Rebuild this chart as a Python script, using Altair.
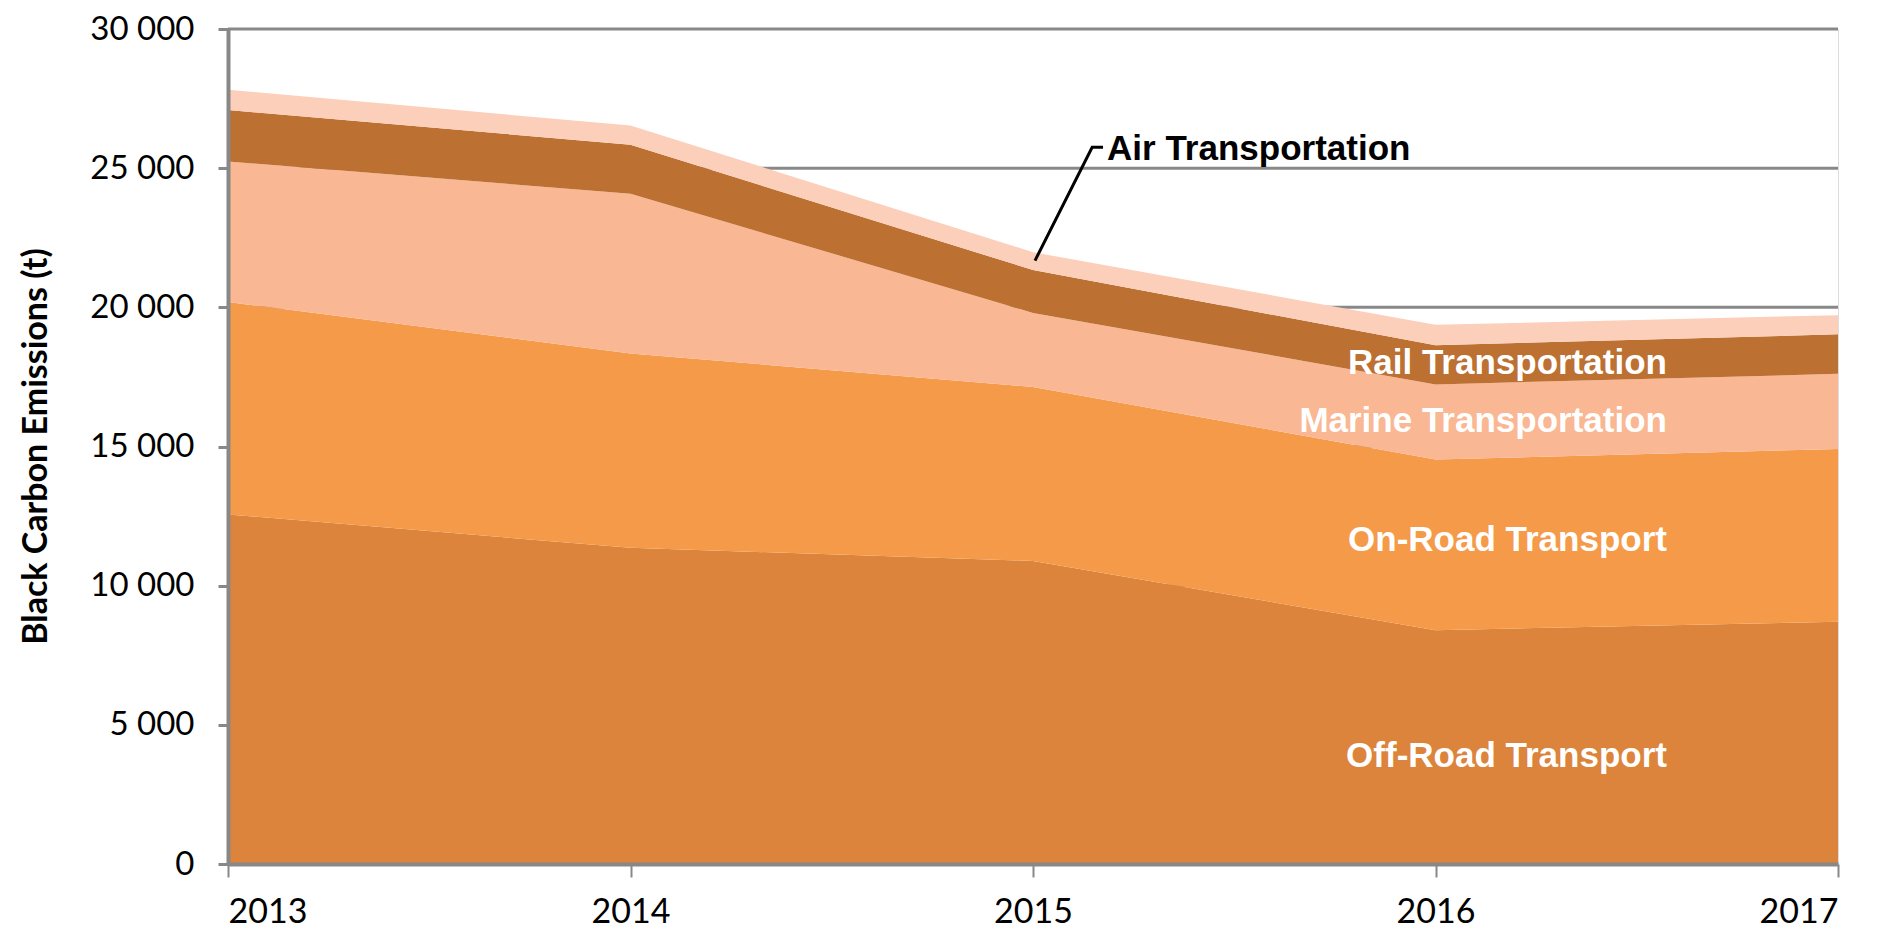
import altair as alt
import pandas as pd

years = [2013, 2014, 2015, 2016, 2017]
sectors = ["Off-Road Transport", "On-Road Transport", "Marine Transportation",
           "Rail Transportation", "Air Transportation"]
off_road = [12560, 11360, 10890, 8400, 8700]
on_road = [7630, 6980, 6250, 6130, 6210]
marine = [5050, 5740, 2660, 2700, 2700]
rail = [1850, 1760, 1540, 1410, 1420]
air = [730, 690, 640, 730, 690]
colors = ["#DC843C", "#F59A48", "#F9B793", "#BC7032", "#FBCFBA"]

y_ticks = [0, 5000, 10000, 15000, 20000, 25000, 30000]
grid_vals = [5000, 10000, 15000, 20000, 25000, 30000]

label_text = ["Rail Transportation", "Marine Transportation",
              "On-Road Transport", "Off-Road Transport"]
label_x = [2016.575, 2016.575, 2016.575, 2016.575]
label_y = [18000, 15930, 11640, 3890]

air_label = ["Air Transportation"]
air_label_x = [2015.184]
air_label_y = [25680]
leader_x = [2015.005, 2015.147, 2015.174]
leader_y = [21680, 25750, 25750]

series = [off_road, on_road, marine, rail, air]
rows = []
for rank, (name, vals) in enumerate(zip(sectors, series)):
    for yr, v in zip(years, vals):
        rows.append({"year": yr, "sector": name, "value": v, "rank": rank})
df = pd.DataFrame(rows)

x_scale = alt.Scale(domain=[2013, 2017], nice=False, zero=False)
y_scale = alt.Scale(domain=[0, 30000], nice=False)

grid = alt.Chart(pd.DataFrame({"g": grid_vals})).mark_rule(
    color="#888888", strokeWidth=3
).encode(y=alt.Y("g:Q", scale=y_scale))

areas = alt.Chart(df).mark_area(opacity=1).encode(
    x=alt.X("year:Q", scale=x_scale,
            axis=alt.Axis(values=years, format="d", title=None, grid=False,
                          domainColor="#888888", domainWidth=4,
                          tickColor="#888888", tickWidth=2, tickSize=13,
                          labelPadding=18, labelFont="Lato", labelFontSize=34,
                          labelColor="#000000", zindex=1)),
    y=alt.Y("value:Q", stack="zero", scale=y_scale,
            axis=alt.Axis(values=y_ticks, grid=False,
                          labelExpr="replace(format(datum.value, ','), ',', ' ')",
                          title="Black Carbon Emissions (t)",
                          titleFont="Lato", titleFontSize=34, titleFontWeight="bold",
                          titleColor="#000000", titleX=-192, titleY=417,
                          titleAngle=270, titleAlign="center", titleBaseline="middle",
                          domainColor="#888888", domainWidth=4,
                          tickColor="#888888", tickWidth=3, tickSize=10,
                          labelPadding=24, labelFont="Lato", labelFontSize=33,
                          labelColor="#000000", zindex=1)),
    color=alt.Color("sector:N", scale=alt.Scale(domain=sectors, range=colors), legend=None),
    order=alt.Order("rank:Q"),
)

labels = alt.Chart(pd.DataFrame({"t": label_text, "x": label_x, "y": label_y})).mark_text(
    align="right", baseline="middle", font="Liberation Sans", fontWeight="bold",
    fontSize=35, color="white"
).encode(x=alt.X("x:Q", scale=x_scale), y=alt.Y("y:Q", scale=y_scale), text="t:N")

air_text = alt.Chart(pd.DataFrame({"t": air_label, "x": air_label_x, "y": air_label_y})).mark_text(
    align="left", baseline="middle", font="Liberation Sans", fontWeight="bold",
    fontSize=35, color="black"
).encode(x=alt.X("x:Q", scale=x_scale), y=alt.Y("y:Q", scale=y_scale), text="t:N")

leader = alt.Chart(pd.DataFrame({"x": leader_x, "y": leader_y, "o": [0, 1, 2]})).mark_line(
    color="black", strokeWidth=3
).encode(x=alt.X("x:Q", scale=x_scale), y=alt.Y("y:Q", scale=y_scale), order="o:Q")

chart = alt.layer(grid, areas, labels, leader, air_text).properties(
    width=1610, height=835,
    autosize=alt.AutoSizeParams(type="none"),
    padding={"left": 220, "top": 21, "right": 37, "bottom": 69},
).configure_view(stroke=None).configure(background="white")

chart.save("out.html", embed_options={"renderer": "svg", "actions": False})
